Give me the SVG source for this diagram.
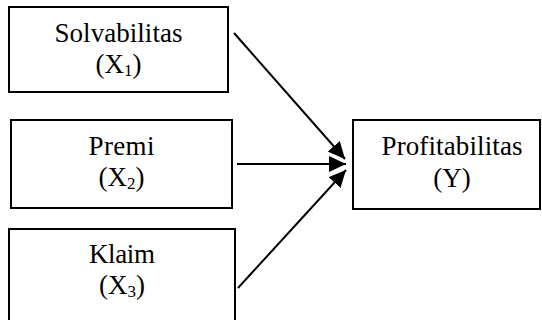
<svg xmlns="http://www.w3.org/2000/svg" width="542" height="320" viewBox="0 0 542 320">
<style>
.box{fill:#fff;stroke:#000;stroke-width:2}
.t{font-family:"Liberation Serif","Times New Roman",serif;font-size:27px;fill:#000;text-anchor:middle}
.sub{font-size:17px}
.c{stroke:#000;stroke-width:2;fill:none;marker-end:url(#ah)}
</style>
<defs>
<marker id="ah" markerUnits="userSpaceOnUse" markerWidth="18" markerHeight="16" refX="17" refY="8" orient="auto">
<path d="M0,0 L17,8 L0,16 Z" fill="#000"/>
</marker>
</defs>
<rect width="542" height="320" fill="#fff"/>
<g id="x1">
<rect class="box" x="9" y="7" width="219" height="85"/>
<text class="t" x="118.5" y="42" textLength="128" lengthAdjust="spacing">Solvabilitas</text>
<text class="t" x="118.5" y="73">(X<tspan class="sub" dy="3">1</tspan><tspan dy="-3">)</tspan></text>
</g>
<g id="x2">
<rect class="box" x="11" y="120" width="221" height="88"/>
<text class="t" x="121.5" y="155" textLength="66" lengthAdjust="spacing">Premi</text>
<text class="t" x="121.5" y="186">(X<tspan class="sub" dy="3">2</tspan><tspan dy="-3">)</tspan></text>
</g>
<g id="x3">
<rect class="box" x="9" y="229" width="226" height="100"/>
<text class="t" x="122" y="263" textLength="66" lengthAdjust="spacing">Klaim</text>
<text class="t" x="122" y="294">(X<tspan class="sub" dy="3">3</tspan><tspan dy="-3">)</tspan></text>
</g>
<g id="y">
<rect class="box" x="353" y="120" width="187" height="89"/>
<text class="t" x="452" y="155" textLength="141" lengthAdjust="spacing">Profitabilitas</text>
<text class="t" x="452" y="187">(Y)</text>
</g>
<g id="connectors">
<line class="c" x1="234" y1="33" x2="345" y2="159"/>
<line class="c" x1="237" y1="164" x2="346" y2="164"/>
<line class="c" x1="238" y1="288" x2="346" y2="170"/>
</g>
</svg>
